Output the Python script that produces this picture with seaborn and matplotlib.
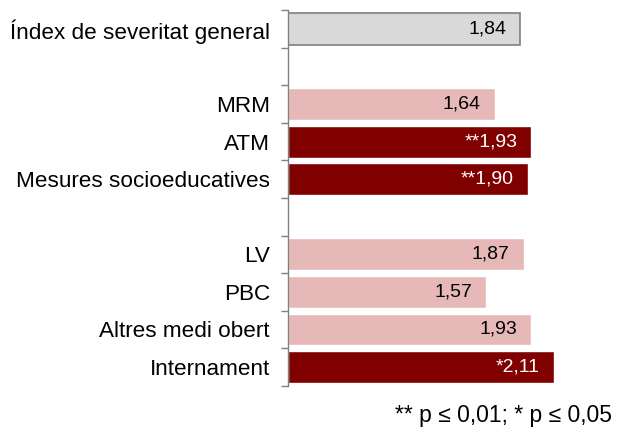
import pandas as pd
import matplotlib
matplotlib.use('Agg')
import matplotlib.pyplot as plt
import seaborn as sns

# Dades del gràfic
categories = ['Índex de severitat general', 'MRM', 'ATM', 'Mesures socioeducatives',
              'LV', 'PBC', 'Altres medi obert', 'Internament']
values = [1.84, 1.64, 1.93, 1.90, 1.87, 1.57, 1.93, 2.11]
value_labels = ['1,84', '1,64', '**1,93', '**1,90', '1,87', '1,57', '1,93', '*2,11']
groups = ['general', 'clar', 'fosc', 'fosc', 'clar', 'clar', 'clar', 'fosc']
order = ['Índex de severitat general', ' ', 'MRM', 'ATM', 'Mesures socioeducatives', '  ',
         'LV', 'PBC', 'Altres medi obert', 'Internament']

palette = {'general': '#D9D9D9', 'clar': '#E6B9B8', 'fosc': '#800000'}
text_colors = {'general': 'black', 'clar': 'black', 'fosc': 'white'}

df = pd.DataFrame({'categoria': categories, 'valor': values, 'grup': groups})

sns.set_style('white')
plt.rcParams['font.family'] = ['Liberation Sans', 'DejaVu Sans']

fig = plt.figure(figsize=(6.18, 4.36), dpi=100)
ax = fig.add_axes([0.466, 0.115, 0.51, 0.862])

sns.barplot(data=df, x='valor', y='categoria', hue='grup', palette=palette,
            order=order, orient='h', width=0.85, dodge=False, legend=False,
            saturation=1, ax=ax)

# Vora del primer rectangle (índex general)
for p in ax.patches:
    fc = p.get_facecolor()
    if abs(fc[0] - 0xD9 / 255) < 0.01 and abs(fc[1] - 0xD9 / 255) < 0.01:
        p.set_edgecolor('#808080')
        p.set_linewidth(1.2)

# Etiquetes de valor dins de les barres
for cat, val, lab, grp in zip(categories, values, value_labels, groups):
    ax.text(val - 0.11, order.index(cat), lab, ha='right', va='center',
            fontsize=14, color=text_colors[grp])

ax.set_xlim(0, 2.5)
ax.set_ylim(9.5, -0.5)
ax.set_xlabel('')
ax.set_ylabel('')
ax.set_xticks([])
ax.set_yticks(range(len(order)))
ax.set_yticklabels(order, fontsize=16.2, color='black')
ax.tick_params(axis='y', which='major', length=0, pad=13)
ax.set_yticks([i - 0.5 for i in range(len(order) + 1)], minor=True)
ax.tick_params(axis='y', which='minor', left=True, length=5, color='#808080', width=1)

for side in ['top', 'right', 'bottom']:
    ax.spines[side].set_visible(False)
ax.spines['left'].set_color('#808080')
ax.spines['left'].set_linewidth(1)

fig.text(0.99, 0.048, '** p \u2264 0,01; * p \u2264 0,05', ha='right', va='center',
         fontsize=16.5, color='black')

fig.savefig('out.png', dpi=100)
